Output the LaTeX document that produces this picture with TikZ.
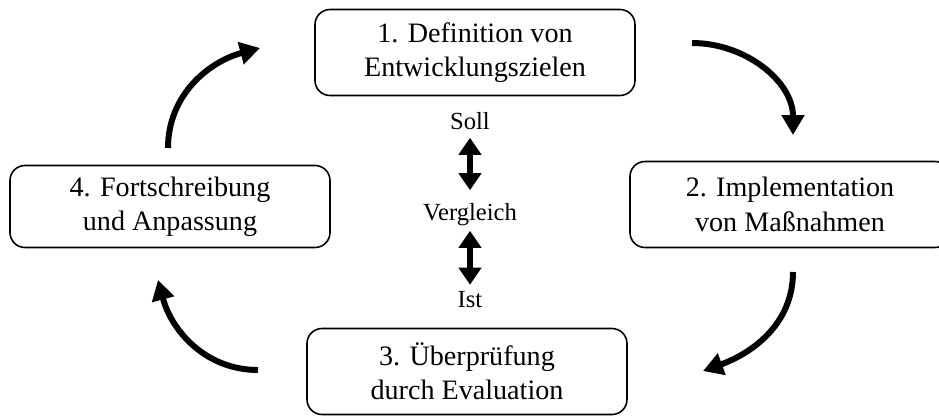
\documentclass[tikz,border=0pt]{standalone}
\usepackage{fontspec}
\setmainfont{Liberation Serif}
\usetikzlibrary{arrows.meta}

\begin{document}
\begin{tikzpicture}[font=\fontsize{16}{19.5}\selectfont, stage/.style={draw, rounded corners=0.3cm, line width=0.9pt, minimum width=6.4cm, minimum height=1.72cm, align=center}, cycle/.style={line width=3.4pt, -{Triangle[length=4mm,width=4.4mm]}}, cmp/.style={line width=3.2pt, {Triangle[length=3.4mm,width=4.4mm]}-{Triangle[length=3.4mm,width=4.4mm]}}, lbl/.style={font=\fontsize{14}{16}\selectfont, inner sep=1pt}]
\useasboundingbox (0,0) rectangle (18.78,8.30);
\node[stage] (def) at (9.50,7.25) {1. Definition von\\Entwicklungszielen};
\node[stage] (impl) at (15.80,4.21) {2. Implementation\\von Maßnahmen};
\node[stage] (eval) at (9.34,0.87) {3. Überprüfung\\durch Evaluation};
\node[stage, minimum height=1.64cm] (fort) at (3.40,4.17) {4. Fortschreibung\\und Anpassung};
\coordinate (a1s) at (13.84,7.44); \coordinate (a1e) at (15.86,5.60);
\coordinate (a2s) at (15.86,2.86); \coordinate (a2e) at (14.06,0.88);
\coordinate (a3s) at (5.16,0.90); \coordinate (a3e) at (3.16,2.70);
\coordinate (a4s) at (3.36,5.34); \coordinate (a4e) at (5.20,7.34);
\draw[cycle] (a1s) to[out=0,in=90] (a1e);
\draw[cycle] (a2s) to[out=-90,in=20] (a2e);
\draw[cycle] (a3s) to[out=180,in=-75] (a3e);
\draw[cycle] (a4s) to[out=90,in=195] (a4e);
\node[lbl] (soll) at (9.40,5.88) {Soll};
\node[lbl] (vgl) at (9.40,4.00) {Vergleich};
\node[lbl] (ist) at (9.40,2.30) {Ist};
\draw[cmp, shorten <=0.12cm, shorten >=0.23cm] (soll) -- (vgl);
\draw[cmp, shorten <=0.05cm, shorten >=0.1cm] (vgl) -- (ist);
\end{tikzpicture}
\end{document}
